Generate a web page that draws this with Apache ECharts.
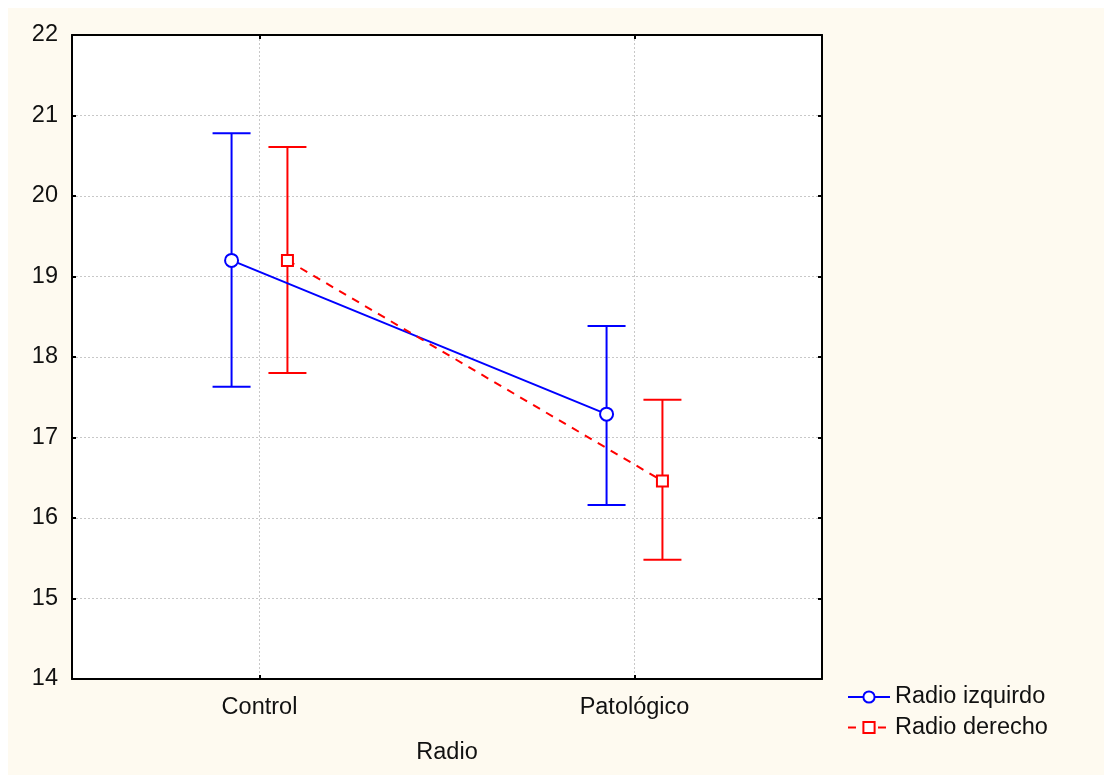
<!DOCTYPE html>
<html><head><meta charset="utf-8">
<script src="https://cdn.jsdelivr.net/npm/echarts@6/dist/echarts.min.js"></script>
<style>html,body{margin:0;padding:0;background:#fff}#c{width:1104px;height:775px}</style>
</head><body><div id="c"></div>
<script>
const categories = ['Control', 'Patológico'];
const seriesNames = ['Radio izquirdo', 'Radio derecho'];
const izqMean = [19.20, 17.29];
const izqLow = [17.63, 16.16];
const izqHigh = [20.78, 18.385];
const derMean = [19.20, 16.46];
const derLow = [17.80, 15.48];
const derHigh = [20.61, 17.47];
const yTicks = [14, 15, 16, 17, 18, 19, 20, 21, 22];

const offset = 0.149;
const catPos = categories.map((c, i) => 1 + 2 * i);
const axisCats = ['', categories[0], '', categories[1], ''];
const showOdd = (idx) => idx % 2 === 1;
const font = 'Liberation Sans, Arial, sans-serif';
const fs = 23.5;

function errSeries(name, color, xs, lows, highs) {
  return {
    type: 'custom', name: name + ' err', xAxisIndex: 1, yAxisIndex: 0, z: 3, silent: true,
    data: xs.map((x, i) => [x, lows[i], highs[i]]),
    renderItem: function (params, api) {
      const x = api.value(0);
      const lo = api.coord([x, api.value(1)]);
      const hi = api.coord([x, api.value(2)]);
      const hw = 19;
      const st = { stroke: color, lineWidth: 2 };
      return {
        type: 'group', children: [
          { type: 'line', shape: { x1: lo[0], y1: lo[1], x2: hi[0], y2: hi[1] }, style: st },
          { type: 'line', shape: { x1: lo[0] - hw, y1: lo[1], x2: lo[0] + hw, y2: lo[1] }, style: st },
          { type: 'line', shape: { x1: hi[0] - hw, y1: hi[1], x2: hi[0] + hw, y2: hi[1] }, style: st }
        ]
      };
    }
  };
}

const izqX = catPos.map(p => p - offset);
const derX = catPos.map(p => p + offset);

const chart = echarts.init(document.getElementById('c'));
chart.setOption({
  backgroundColor: '#ffffff',
  animation: false,
  textStyle: { fontFamily: font },
  graphic: [{ type: 'rect', z: -10, shape: { x: 8, y: 8, width: 1096, height: 767 }, style: { fill: '#fefaf0' } }],
  grid: { left: 72, top: 35, right: 282, bottom: 96, backgroundColor: '#ffffff', show: true, borderWidth: 0 },
  legend: {
    orient: 'vertical', left: 842, top: 680, itemWidth: 42, itemHeight: 14, itemGap: 6.5,
    textStyle: { fontSize: fs, color: '#111', fontFamily: font },
    data: seriesNames
  },
  xAxis: [
    {
      type: 'category', data: axisCats, boundaryGap: false, position: 'bottom',
      axisLine: { lineStyle: { color: '#000', width: 2 } },
      axisTick: { inside: true, length: 4, interval: showOdd, lineStyle: { color: '#000', width: 2 } },
      axisLabel: { interval: showOdd, fontSize: fs, color: '#111', margin: 17, fontFamily: font },
      splitLine: { show: true, interval: showOdd, lineStyle: { color: '#c8c8c8', type: [2, 2], width: 1 } },
      name: 'Radio', nameLocation: 'middle', nameGap: 62,
      nameTextStyle: { fontSize: fs, color: '#111', fontFamily: font }
    },
    { type: 'value', min: 0, max: 4, show: false },
    {
      type: 'category', data: axisCats, boundaryGap: false, position: 'top',
      axisLine: { lineStyle: { color: '#000', width: 2 } },
      axisTick: { inside: true, length: 4, interval: showOdd, lineStyle: { color: '#000', width: 2 } },
      axisLabel: { show: false }, splitLine: { show: false }
    }
  ],
  yAxis: [
    {
      type: 'value', min: yTicks[0], max: yTicks[yTicks.length - 1], interval: 1,
      axisLine: { show: true, lineStyle: { color: '#000', width: 2 } },
      axisTick: { show: true, inside: true, length: 4, lineStyle: { color: '#000', width: 2 } },
      axisLabel: { fontSize: fs, color: '#111', margin: 14, fontFamily: font },
      splitLine: { show: true, lineStyle: { color: '#c8c8c8', type: [2, 2], width: 1 } }
    },
    {
      type: 'value', min: yTicks[0], max: yTicks[yTicks.length - 1], interval: 1, position: 'right',
      axisLine: { show: true, lineStyle: { color: '#000', width: 2 } },
      axisTick: { show: true, inside: true, length: 4, lineStyle: { color: '#000', width: 2 } },
      axisLabel: { show: false }, splitLine: { show: false }
    }
  ],
  series: [
    errSeries(seriesNames[0], '#0000ff', izqX, izqLow, izqHigh),
    errSeries(seriesNames[1], '#ff0000', derX, derLow, derHigh),
    {
      type: 'line', name: seriesNames[0], xAxisIndex: 1, yAxisIndex: 0, z: 5,
      data: izqX.map((x, i) => [x, izqMean[i]]),
      symbol: 'emptyCircle', symbolSize: 13,
      lineStyle: { color: '#0000ff', width: 2 },
      itemStyle: { color: '#0000ff', borderWidth: 2 }
    },
    {
      type: 'line', name: seriesNames[1], xAxisIndex: 1, yAxisIndex: 0, z: 5,
      data: derX.map((x, i) => [x, derMean[i]]),
      symbol: 'emptyRect', symbolSize: 11,
      lineStyle: { color: '#ff0000', width: 2, type: [8, 7] },
      itemStyle: { color: '#ff0000', borderWidth: 2 }
    }
  ]
});
</script></body></html>
